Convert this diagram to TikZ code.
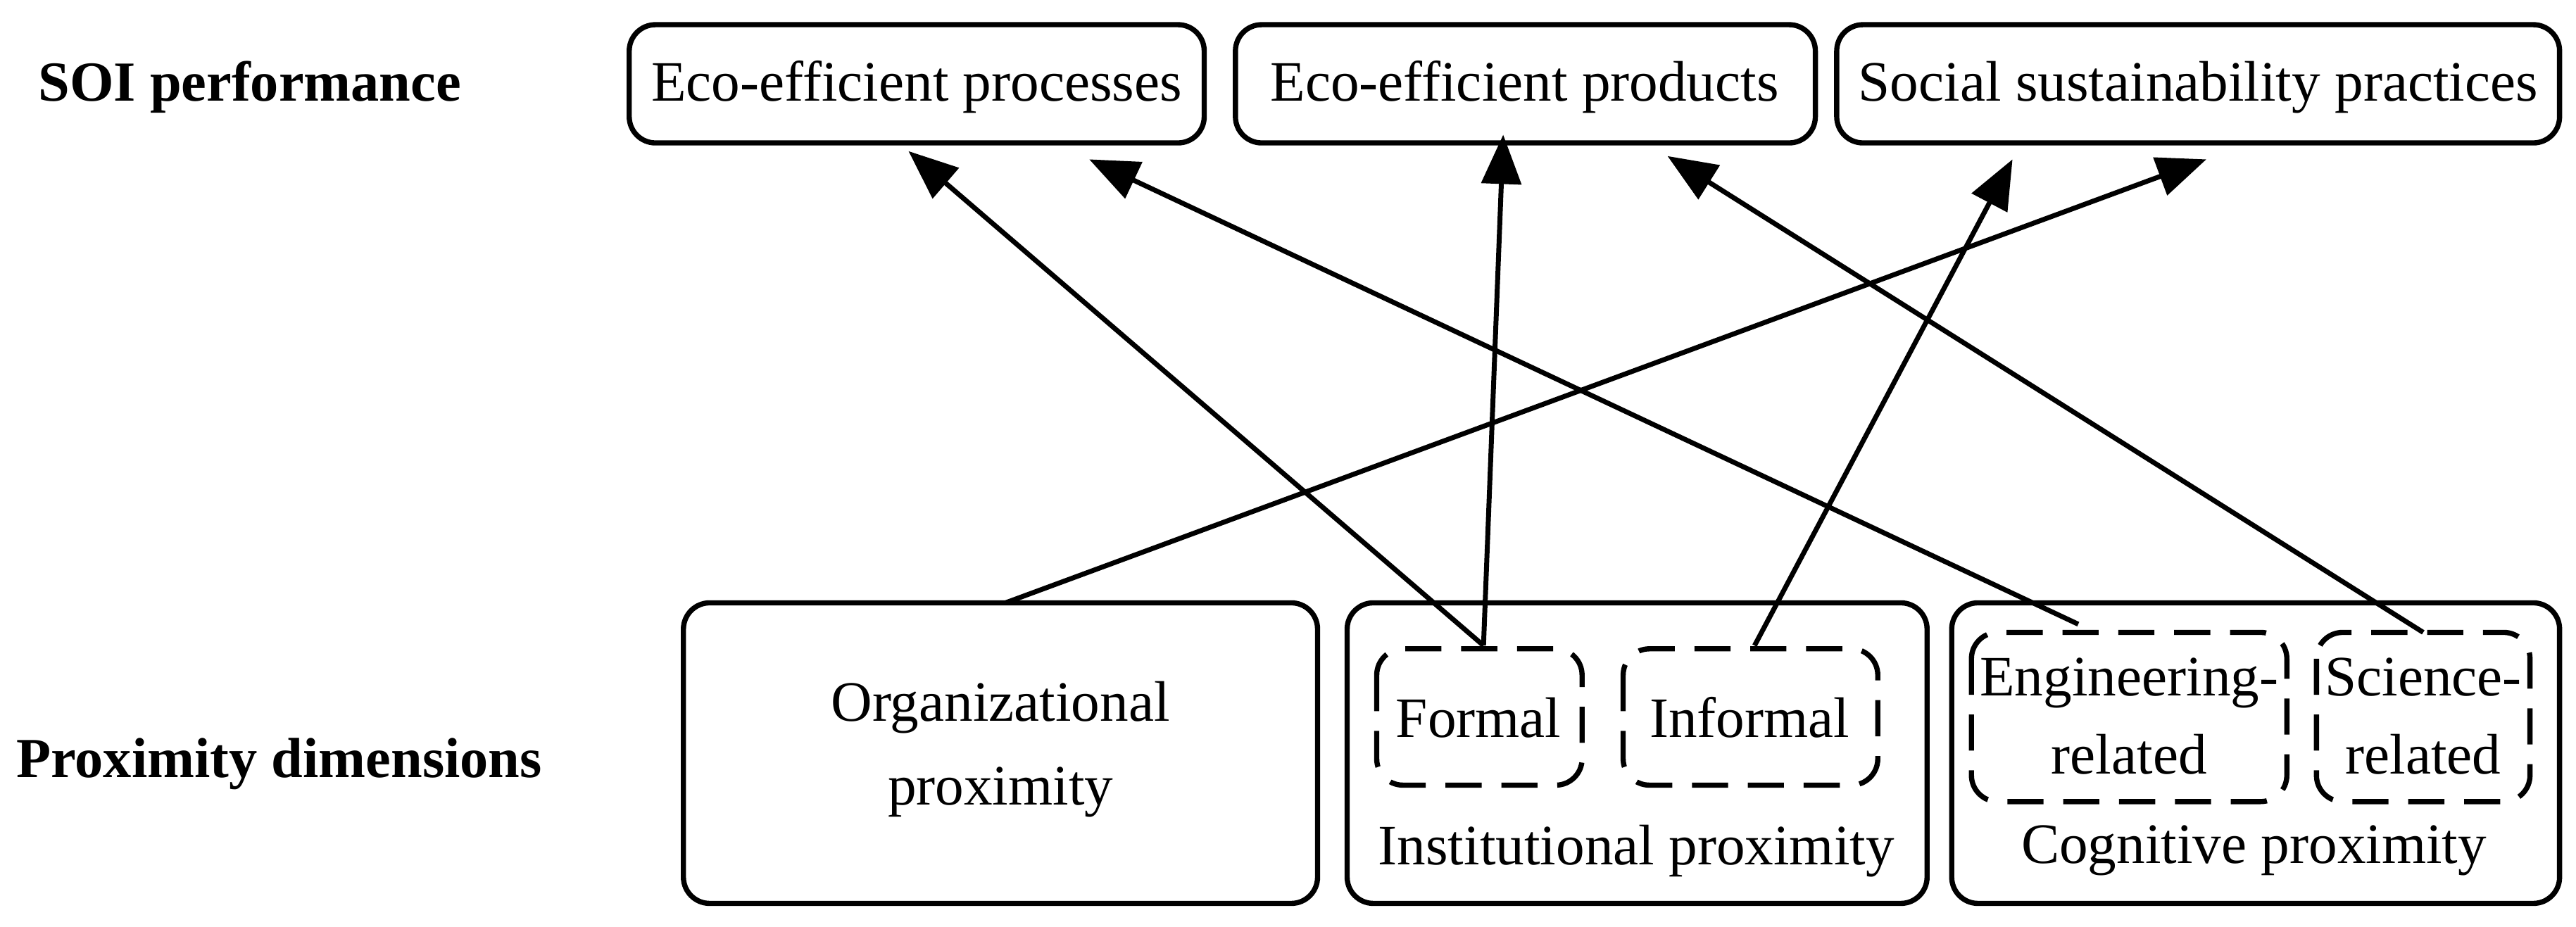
\documentclass[tikz,border=0pt]{standalone}
\usepackage{fontspec}
\setmainfont{Liberation Serif}
\usetikzlibrary{arrows.meta}
\begin{document}
\begin{tikzpicture}[x=0.1mm,y=-0.1mm,
  box/.style={draw,line width=0.9pt,rounded corners=1.6mm},
  dbox/.style={draw,line width=0.9pt,dash pattern=on 2.2mm off 1.2mm,rounded corners=1.6mm},
  lbl/.style={font=\fontsize{9.9}{11.5}\selectfont,align=center,inner sep=0},
  blbl/.style={font=\fontsize{9.8}{11.5}\selectfont\bfseries,inner sep=0},
  arr/.style={line width=0.85pt,-{Triangle[length=3mm,width=2.4mm]}}]
\useasboundingbox (0,0) rectangle (1568,564);
% top boxes
\draw[box] (383,15) rectangle (733,87);
\node[lbl] (proc) at (558,53) {Eco-efficient processes};
\draw[box] (752,15) rectangle (1105,87);
\node[lbl] (prod) at (928,53) {Eco-efficient products};
\draw[box] (1118,15) rectangle (1558,87);
\node[lbl] (soc) at (1338,53) {Social sustainability practices};
\node[blbl] (soi) at (152,53) {SOI performance};
\node[blbl] (pd) at (170,465) {Proximity dimensions};
% bottom boxes
\draw[box] (416,367) rectangle (802,550);
\node[lbl] (org) at (609,456) {Organizational\\[3pt]proximity};
\draw[box] (820,367) rectangle (1173,550);
\node[lbl] (inst) at (996,518) {Institutional proximity};
\draw[box] (1188,367) rectangle (1558,550);
\node[lbl] (cog) at (1372,518) {Cognitive proximity};
\draw[dbox] (838,395) rectangle (963,478);
\node[lbl] (formal) at (900,437) {Formal};
\draw[dbox] (988,395) rectangle (1143,478);
\node[lbl] (informal) at (1065,437) {Informal};
\draw[dbox] (1200,385) rectangle (1392,488);
\node[lbl] (eng) at (1296,436) {Engineering-\\[2pt]related};
\draw[dbox] (1410,385) rectangle (1540,488);
\node[lbl] (sci) at (1475,436) {Science-\\[2pt]related};
% connector endpoints
\coordinate (orgT) at (612,367);
\coordinate (forT) at (903,393);
\coordinate (infT) at (1068,393);
\coordinate (engT) at (1265,380);
\coordinate (sciT) at (1475,385);
\coordinate (socA) at (1343,97);
\coordinate (socB) at (1225,97);
\coordinate (procA) at (553,92);
\coordinate (procB) at (663,97);
\coordinate (prodA) at (915,82);
\coordinate (prodB) at (1015,95);
\draw[arr] (orgT) -- (socA);
\draw[arr] (forT) -- (procA);
\draw[arr] (forT) -- (prodA);
\draw[arr] (infT) -- (socB);
\draw[arr] (engT) -- (procB);
\draw[arr] (sciT) -- (prodB);
\end{tikzpicture}
\end{document}
